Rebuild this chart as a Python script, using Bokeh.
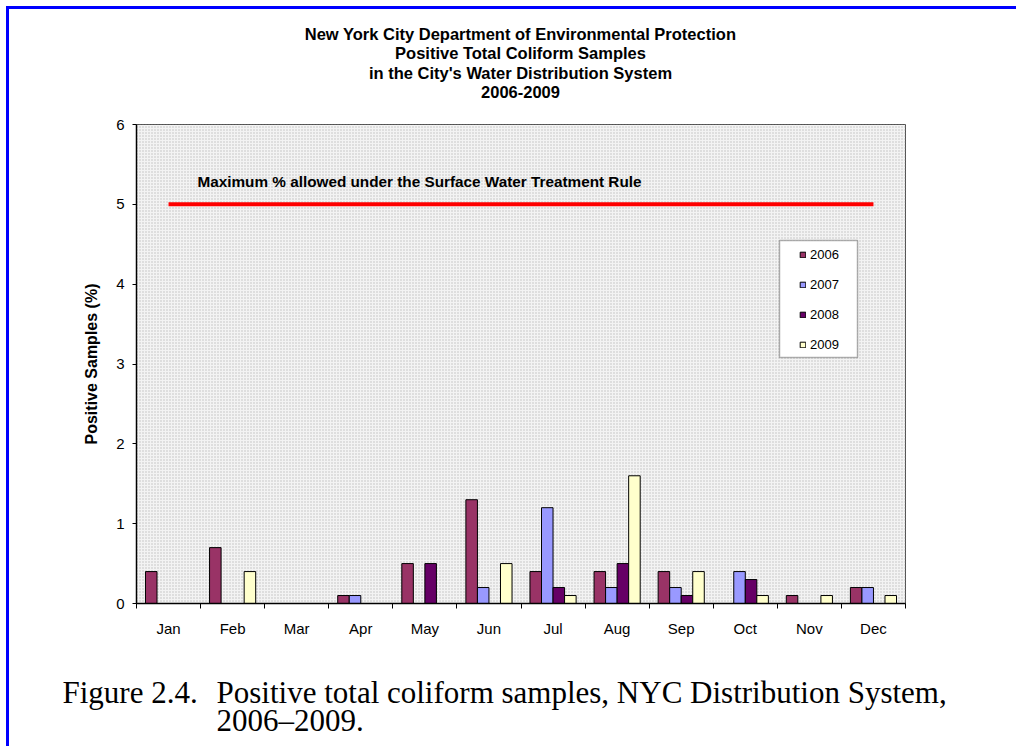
from bokeh.plotting import figure
from bokeh.layouts import column
from bokeh.models import (Range1d, FixedTicker, Label, BoxAnnotation, Legend,
                          LegendItem, ColumnDataSource, CustomJSTickFormatter)
from bokeh.embed import file_html
from bokeh.resources import INLINE

# Monthly percentage of positive total coliform samples, 2006-2009
months = ["Jan", "Feb", "Mar", "Apr", "May", "Jun",
          "Jul", "Aug", "Sep", "Oct", "Nov", "Dec"]
years = ["2006", "2007", "2008", "2009"]
pct_2006 = [0.4, 0.7, 0.0, 0.1, 0.5, 1.3, 0.4, 0.4, 0.4, 0.0, 0.1, 0.2]
pct_2007 = [0.0, 0.0, 0.0, 0.1, 0.0, 0.2, 1.2, 0.2, 0.2, 0.4, 0.0, 0.2]
pct_2008 = [0.0, 0.0, 0.0, 0.0, 0.5, 0.0, 0.2, 0.5, 0.1, 0.3, 0.0, 0.0]
pct_2009 = [0.0, 0.4, 0.0, 0.0, 0.0, 0.5, 0.1, 1.6, 0.4, 0.1, 0.1, 0.1]
swtr_max_pct = 5  # maximum % allowed under the Surface Water Treatment Rule
y_ticks = [0, 1, 2, 3, 4, 5, 6]

title_lines = ["New York City Department of Environmental Protection",
               "Positive Total Coliform Samples",
               "in the City's Water Distribution System",
               "2006-2009"]
caption_lead = "Figure 2.4."
caption_lines = ["Positive total coliform samples, NYC Distribution System,",
                 "2006\u20132009."]

series = [pct_2006, pct_2007, pct_2008, pct_2009]
colors = ["#993366", "#9999FF", "#660066", "#FFFFCC"]

FONT = "Liberation Sans"
SERIF = "Liberation Serif"
W, H = 1016, 746
TOP_H, CAP_H = 110, 86              # heading and caption strips
MAIN_H = H - TOP_H - CAP_H
FL, FR, FT, FB = 136, 905, 124, 603  # plot frame edges on the page


def text_strip(height):
    """axis-less figure whose frame is the whole strip, used for free text"""
    f = figure(width=W, height=height, output_backend="svg", toolbar_location=None,
               x_axis_type=None, y_axis_type=None, title_location=None,
               min_border=0, frame_align=False,
               x_range=Range1d(0, 1), y_range=Range1d(0, 1))
    f.outline_line_color = None
    f.background_fill_color = None
    f.border_fill_color = None
    f.grid.visible = False
    return f


def strip_label(f, top, height, px, py, text, **kw):
    """place text at page pixel (px, py) inside a strip starting at page y = top"""
    f.add_layout(Label(x=px, y=top + height - py, x_units="screen", y_units="screen",
                       text=text, text_color="#000000", **kw))


# ---- heading ----
head = text_strip(TOP_H)
for line, py in zip(title_lines, [33, 52, 72, 91]):
    strip_label(head, 0, TOP_H, 520, py, line, text_font=FONT,
                text_font_style="bold", text_font_size="16.5px",
                text_align="center", text_baseline="middle")

# ---- chart ----
p = figure(width=W, height=MAIN_H, output_backend="svg", toolbar_location=None,
           title_location=None,
           x_range=Range1d(0, len(months)), y_range=Range1d(0, 6),
           min_border_left=FL, min_border_right=W - FR,
           min_border_top=FT - TOP_H, min_border_bottom=TOP_H + MAIN_H - FB)
p.background_fill_color = "#f3f3f3"
p.border_fill_color = None
p.outline_line_color = "#505050"
p.outline_line_width = 1
p.grid.visible = False


def sx(px):
    """page x pixel -> frame-relative screen x"""
    return px - FL


def sy(py):
    """page y pixel -> frame-relative screen y (upwards)"""
    return FB - py


# fine dotted fill of the plotting area
p.add_layout(BoxAnnotation(left=0, right=FR - FL, bottom=0, top=FB - FT,
                           left_units="screen", right_units="screen",
                           top_units="screen", bottom_units="screen",
                           fill_color=None, line_color=None, level="underlay",
                           hatch_pattern="dot", hatch_color="#bdbdbd",
                           hatch_scale=3, hatch_weight=1, hatch_alpha=1))

# grouped bars
centers = [i + 0.5 for i in range(len(months))]
bar_w = 0.18
offsets = [-1.5 * bar_w, -0.5 * bar_w, 0.5 * bar_w, 1.5 * bar_w]
items = []
for yr, vals, col, off in zip(years, series, colors, offsets):
    src = ColumnDataSource(dict(x=[c + off for c in centers], top=vals))
    r = p.vbar(x="x", top="top", width=bar_w, source=src,
               fill_color=col, line_color="#000000", line_width=1)
    items.append(LegendItem(label=yr, renderers=[r]))

# regulatory maximum line
p.line(x=[centers[0], centers[-1]], y=[swtr_max_pct, swtr_max_pct],
       line_color="#FF0000", line_width=4)
p.add_layout(Label(x=sx(197), y=sy(181), x_units="screen", y_units="screen",
                   text="Maximum % allowed under the Surface Water Treatment Rule",
                   text_font=FONT, text_font_style="bold", text_font_size="15.3px",
                   text_baseline="middle", text_align="left", text_color="#000000"))

# axes
xa = p.xaxis[0]
xa.ticker = FixedTicker(ticks=centers, minor_ticks=list(range(len(months) + 1)))
xa.formatter = CustomJSTickFormatter(args=dict(months=months),
                                     code="return months[Math.floor(tick)] ?? '';")
xa.major_tick_in = 0
xa.major_tick_out = 0
xa.minor_tick_in = 0
xa.minor_tick_out = 5
xa.minor_tick_line_color = "#000000"
xa.axis_line_color = "#000000"
xa.axis_line_width = 1.5
xa.major_label_text_font = FONT
xa.major_label_text_font_size = "15px"
xa.major_label_text_color = "#000000"
xa.major_label_standoff = 11

ya = p.yaxis[0]
ya.ticker = FixedTicker(ticks=y_ticks)
ya.major_tick_in = 0
ya.major_tick_out = 4
ya.minor_tick_line_color = None
ya.axis_line_color = "#000000"
ya.axis_line_width = 1.5
ya.major_label_text_font = FONT
ya.major_label_text_font_size = "15px"
ya.major_label_text_color = "#000000"
ya.major_label_standoff = 8
ya.axis_label = "Positive Samples (%)"
ya.axis_label_text_font = FONT
ya.axis_label_text_font_style = "bold"
ya.axis_label_text_font_size = "16px"
ya.axis_label_text_color = "#000000"
ya.axis_label_standoff = 13

# legend box and entries
p.add_layout(BoxAnnotation(left=sx(779), right=sx(857), top=sy(240), bottom=sy(357),
                           left_units="screen", right_units="screen",
                           top_units="screen", bottom_units="screen",
                           fill_color="white", fill_alpha=1,
                           line_color="#000000", line_width=1.5))
legend = Legend(items=items, location=(sx(799), sy(354)),
                glyph_width=7, glyph_height=7, label_standoff=4, spacing=10,
                padding=0, margin=0, label_height=20,
                label_text_font=FONT, label_text_font_size="13px",
                label_text_color="#000000",
                border_line_color=None, background_fill_alpha=0)
p.add_layout(legend)

# ---- caption ----
cap = text_strip(CAP_H)
cap_top = TOP_H + MAIN_H
cap_style = dict(text_font=SERIF, text_font_size="31px",
                 text_align="left", text_baseline="middle")
strip_label(cap, cap_top, CAP_H, 62, 692, caption_lead, **cap_style)
strip_label(cap, cap_top, CAP_H, 216, 692, caption_lines[0], **cap_style)
strip_label(cap, cap_top, CAP_H, 216, 720, caption_lines[1], **cap_style)

# page rule along the top and left edges, behind the transparent canvases
page = column(head, p, cap, spacing=0, styles={
    "background-color": "white",
    "background-image": "linear-gradient(#0000ff, #0000ff), linear-gradient(#0000ff, #0000ff)",
    "background-size": "3px 100%, 100% 3px",
    "background-position": "6px 6px, 6px 6px",
    "background-repeat": "no-repeat",
})

open("out.html", "w").write(file_html(page, INLINE))
